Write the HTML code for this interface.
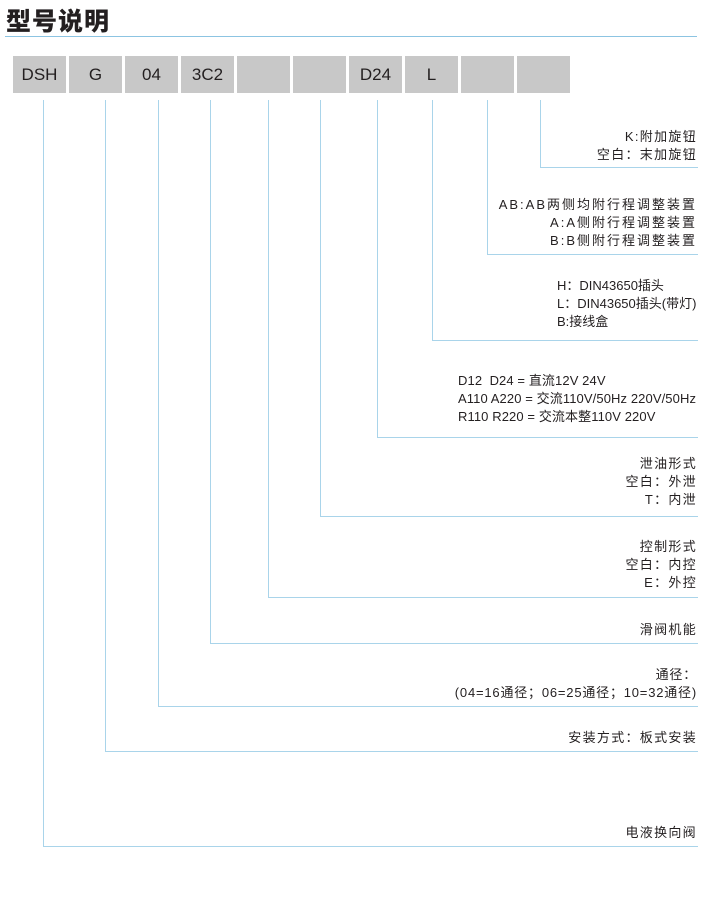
<!DOCTYPE html>
<html><head><meta charset="utf-8"><style>
body{margin:0;width:710px;height:900px;background:#fff;position:relative;overflow:hidden;font-family:"Liberation Sans","Noto Sans CJK SC",sans-serif;color:#231f20}
.t{position:absolute;left:6px;top:2px;font-size:25px;font-weight:900;font-family:"Noto Sans CJK SC",sans-serif;letter-spacing:1px}
.ul{position:absolute;left:5px;top:36px;width:692px;height:1px;background:#8cc4e2}
.b{position:absolute;top:56px;height:37px;width:53px;background:#c8c8c8;font-size:17px;line-height:37px;text-align:center}
.v{position:absolute;top:100px;width:1px;background:#a9d4ea}
.h{position:absolute;right:12px;height:1px;background:#a9d4ea}
.x{position:absolute;right:13px;text-align:right;font-size:13px;line-height:18px;letter-spacing:1.3px}
.n{letter-spacing:0}
</style></head><body>
<div class="t">型号说明</div><div class="ul"></div>
<div class="b" style="left:13px">DSH</div>
<div class="b" style="left:69px">G</div>
<div class="b" style="left:125px">04</div>
<div class="b" style="left:181px">3C2</div>
<div class="b" style="left:237px"></div>
<div class="b" style="left:293px"></div>
<div class="b" style="left:349px">D24</div>
<div class="b" style="left:405px">L</div>
<div class="b" style="left:461px"></div>
<div class="b" style="left:517px"></div>

<div class="v" style="left:43px;height:747px"></div><div class="h" style="left:43px;top:846px"></div>
<div class="v" style="left:105px;height:652px"></div><div class="h" style="left:105px;top:751px"></div>
<div class="v" style="left:158px;height:607px"></div><div class="h" style="left:158px;top:706px"></div>
<div class="v" style="left:210px;height:544px"></div><div class="h" style="left:210px;top:643px"></div>
<div class="v" style="left:268px;height:498px"></div><div class="h" style="left:268px;top:597px"></div>
<div class="v" style="left:320px;height:417px"></div><div class="h" style="left:320px;top:516px"></div>
<div class="v" style="left:377px;height:338px"></div><div class="h" style="left:377px;top:437px"></div>
<div class="v" style="left:432px;height:241px"></div><div class="h" style="left:432px;top:340px"></div>
<div class="v" style="left:487px;height:155px"></div><div class="h" style="left:487px;top:254px"></div>
<div class="v" style="left:540px;height:68px"></div><div class="h" style="left:540px;top:167px"></div>

<div class="x" style="top:128px">K:附加旋钮<br>空白：末加旋钮</div>
<div class="x" style="top:196px;letter-spacing:2px">AB:AB两侧均附行程调整装置<br>A:A侧附行程调整装置<br>B:B侧附行程调整装置</div>
<div class="x n" style="top:277px;text-align:left;left:557px;right:auto">H：DIN43650插头<br>L：DIN43650插头(带灯)<br>B:接线盒</div>
<div class="x n" style="top:372px;text-align:left;left:458px;right:auto;letter-spacing:0.1px">D12&nbsp; D24 = 直流12V 24V<br>A110 A220 = 交流110V/50Hz 220V/50Hz<br>R110 R220 = 交流本整110V 220V</div>
<div class="x" style="top:455px">泄油形式<br>空白：外泄<br>T：内泄</div>
<div class="x" style="top:538px">控制形式<br>空白：内控<br>E：外控</div>
<div class="x" style="top:621px">滑阀机能</div>
<div class="x" style="top:666px;letter-spacing:0.8px">通径：<br>(04=16通径；06=25通径；10=32通径)</div>
<div class="x" style="top:729px">安装方式：板式安装</div>
<div class="x" style="top:824px">电液换向阀</div>
</body></html>
